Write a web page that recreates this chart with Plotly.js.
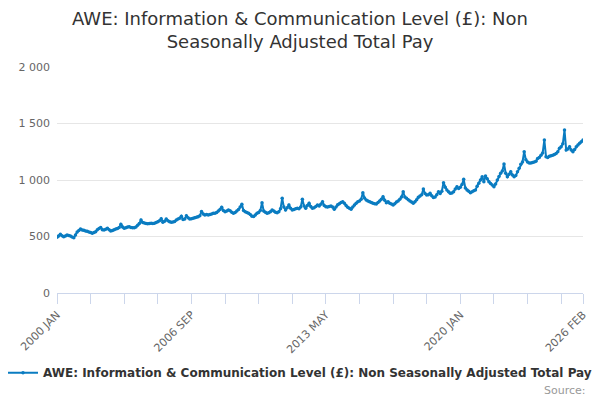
<!DOCTYPE html>
<html>
<head>
<meta charset="utf-8">
<script src="https://cdn.plot.ly/plotly-3.0.1.min.js"></script>
<style>
  html, body { margin: 0; padding: 0; background: #fff; }
  #chart { width: 600px; height: 400px; }
</style>
</head>
<body>
<div id="chart"></div>
<script>
  // monthly values, JAN..DEC
  const y2000 = [493, 505, 519, 506, 498, 505, 513, 508, 504, 495, 490, 513];
  const y2001 = [540, 552, 566, 558, 555, 549, 546, 540, 535, 528, 535, 543];
  const y2002 = [560, 570, 580, 560, 558, 565, 572, 560, 549, 553, 560, 566];
  const y2003 = [570, 580, 608, 585, 572, 578, 583, 587, 580, 578, 578, 585];
  const y2004 = [600, 615, 646, 625, 620, 615, 612, 615, 618, 615, 617, 625];
  const y2005 = [630, 640, 658, 626, 635, 655, 640, 630, 626, 628, 632, 645];
  const y2006 = [655, 661, 680, 650, 655, 684, 665, 655, 658, 662, 667, 670];
  const y2007 = [675, 684, 722, 700, 690, 695, 690, 695, 700, 705, 705, 712];
  const y2008 = [725, 740, 758, 730, 720, 725, 735, 728, 715, 705, 712, 725];
  const y2009 = [740, 760, 785, 730, 720, 712, 705, 695, 680, 676, 690, 705];
  const y2010 = [712, 730, 799, 725, 715, 705, 710, 720, 735, 725, 715, 711];
  const y2011 = [720, 745, 838, 760, 735, 755, 779, 750, 735, 740, 745, 750];
  const y2012 = [745, 760, 829, 770, 750, 775, 794, 765, 750, 755, 765, 779];
  const y2013 = [770, 785, 808, 775, 764, 760, 765, 770, 760, 741, 760, 780];
  const y2014 = [790, 800, 808, 794, 775, 758, 750, 741, 760, 779, 795, 808];
  const y2015 = [815, 830, 888, 840, 823, 815, 808, 800, 795, 790, 788, 800];
  const y2016 = [815, 829, 852, 820, 799, 808, 795, 788, 779, 790, 805, 815];
  const y2017 = [829, 850, 896, 850, 838, 825, 815, 805, 794, 808, 825, 847];
  const y2018 = [858, 870, 920, 880, 867, 870, 882, 860, 845, 850, 870, 897];
  const y2019 = [880, 900, 976, 935, 911, 895, 882, 885, 897, 920, 941, 925];
  const y2020 = [935, 960, 1006, 930, 911, 900, 888, 895, 905, 911, 945, 971];
  const y2021 = [1000, 1029, 985, 1035, 1010, 985, 970, 955, 941, 965, 1000, 1030];
  const y2022 = [1059, 1080, 1142, 1060, 1029, 1050, 1073, 1045, 1029, 1040, 1073, 1103];
  const y2023 = [1140, 1160, 1250, 1180, 1160, 1150, 1150, 1155, 1160, 1165, 1190, 1200];
  const y2024 = [1220, 1240, 1354, 1205, 1200, 1210, 1215, 1220, 1225, 1235, 1250, 1280];
  const y2025 = [1295, 1320, 1442, 1265, 1275, 1295, 1265, 1250, 1270, 1295, 1310, 1325];
  const y2026 = [1339, 1354];

  const MONTHS = ['JAN', 'FEB', 'MAR', 'APR', 'MAY', 'JUN', 'JUL', 'AUG', 'SEP', 'OCT', 'NOV', 'DEC'];
  const shownLabels = ['2000 JAN', '2006 SEP', '2013 MAY', '2020 JAN', '2026 FEB'];
  const yTicks = [0, 500, 1000, 1500, 2000];
  const seriesName = 'AWE: Information & Communication Level (£): Non Seasonally Adjusted Total Pay';

  const values = [].concat(y2000, y2001, y2002, y2003, y2004, y2005, y2006, y2007, y2008,
    y2009, y2010, y2011, y2012, y2013, y2014, y2015, y2016, y2017, y2018, y2019,
    y2020, y2021, y2022, y2023, y2024, y2025, y2026);

  const cats = values.map((v, i) => `${2000 + Math.floor(i / 12)} ${MONTHS[i % 12]}`);

  // tick marks every 20 months plus the last one; text only on a few
  const tickVals = [];
  for (let i = 0; i < cats.length; i += 20) tickVals.push(cats[i]);
  tickVals.push(cats[cats.length - 1]);
  const tickText = tickVals.map((c) => (shownLabels.includes(c) ? c : ''));

  const FONT = 'DejaVu Sans, Verdana, sans-serif';
  const BLUE = '#0a7cc1';

  const trace = {
    x: cats,
    y: values,
    type: 'scatter',
    mode: 'lines+markers',
    name: seriesName,
    line: { color: BLUE, width: 2 },
    marker: { color: BLUE, size: 3.5 },
  };

  const layout = {
    width: 600,
    height: 400,
    margin: { l: 57, r: 17, t: 67, b: 107 },
    paper_bgcolor: '#fff',
    plot_bgcolor: '#fff',
    separators: '. ',
    font: { family: FONT, color: '#666' },
    title: {
      text: 'AWE: Information & Communication Level (£): Non<br>Seasonally Adjusted Total Pay',
      font: { family: FONT, size: 18, color: '#333' },
      x: 0.5,
      xref: 'container',
      y: 0.938,
      yref: 'container',
      yanchor: 'bottom',
    },
    xaxis: {
      type: 'category',
      range: [0, cats.length - 1],
      tickmode: 'array',
      tickvals: tickVals,
      ticktext: tickText,
      tickangle: -45,
      ticks: 'outside',
      ticklen: 10,
      tickcolor: '#ccd6eb',
      showline: true,
      linecolor: '#ccd6eb',
      linewidth: 1,
      showgrid: false,
      zeroline: false,
      tickfont: { size: 11, color: '#666' },
      fixedrange: true,
    },
    yaxis: {
      range: [0, 2000],
      tickmode: 'array',
      tickvals: yTicks,
      tickformat: ',d',
      gridcolor: '#e6e6e6',
      zeroline: false,
      showline: false,
      ticks: '',
      ticklabelstandoff: 6,
      tickfont: { size: 11, color: '#666' },
      fixedrange: true,
    },
    showlegend: true,
    legend: {
      orientation: 'h',
      x: 0.5,
      xref: 'container',
      xanchor: 'center',
      y: 0.068,
      yref: 'container',
      yanchor: 'middle',
      font: { family: FONT, size: 12, color: '#333', weight: 'bold' },
      itemwidth: 30,
    },
    annotations: [{
      text: 'Source:',
      xref: 'paper',
      yref: 'paper',
      x: 1.01,
      y: -0.43,
      xanchor: 'right',
      yanchor: 'middle',
      showarrow: false,
      font: { family: FONT, size: 11, color: '#999' },
    }],
  };

  Plotly.newPlot('chart', [trace], layout, { displayModeBar: false, staticPlot: true });
</script>
</body>
</html>
